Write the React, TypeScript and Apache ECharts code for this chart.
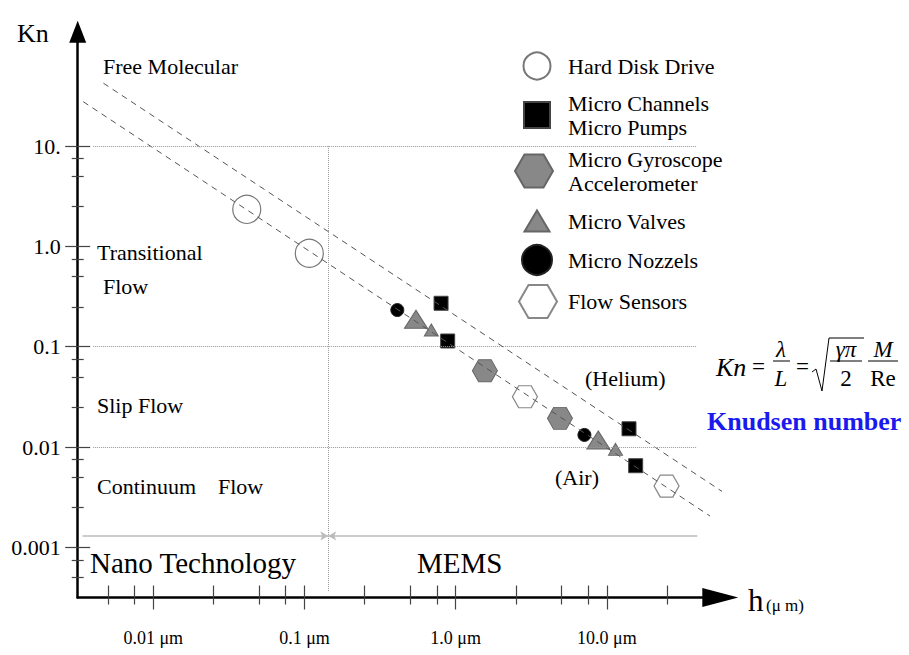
import React, { useEffect, useRef } from 'react';
import * as echarts from 'echarts';

// ---- data (h in micrometres, Kn dimensionless) ----
const hardDisk = [[0.0415, 2.34], [0.1076, 0.853]];
const microChannels = [[0.8, 0.271], [0.885, 0.114], [14.0, 0.0152], [15.5, 0.00651]];
const gyroscope = [[1.56, 0.0577], [4.89, 0.0193]];
const valves = [[0.546, 0.1875], [0.69, 0.1467], [8.77, 0.01175], [11.4, 0.00948]];
const nozzles = [[0.411, 0.232], [7.1, 0.0132]];
const flowSensors = [[2.87, 0.0317], [24.8, 0.00408]];
const heliumLine = [[0.00468, 42.3], [65.2, 0.0032]];
const airLine = [[0.00344, 27.7], [48.1, 0.00205]];

const xTickValues = [0.01, 0.1, 1, 10];
const xTickLabels = ['0.01 μm', '0.1 μm', '1.0 μm', '10.0 μm'];
const xMinorTicks = [0.005, 0.0075, 0.025, 0.05, 0.075, 0.25, 0.5, 0.75, 2.5, 5, 7.5, 25];
const yTickValues = [0.001, 0.01, 0.1, 1, 10];
const yTickLabels = ['0.001', '0.01', '0.1', '1.0', '10.'];
const yMinorTicks = [0.0005, 0.00075, 0.0025, 0.005, 0.0075, 0.025, 0.05, 0.075, 0.25, 0.5, 0.75, 2.5, 5, 7.5];
const gridKn = [10, 0.1, 0.01];
const gridFromH = 0.004;
const gridToH = 39.5;
const boundaryH = 0.1436;
const boundaryKn = [10, 0.00036];
const rangeKn = 0.0013;
const rangeH = [0.0034, 39.6];

const H_MIN_LOG = -2.5;
const H_MAX_LOG = 1.75;
const KN_MIN_LOG = -3.5;
const KN_MAX_LOG = 2.14;

const FONT = '"Liberation Serif", "Times New Roman", serif';
const FAMILY = 'Liberation Serif';
const lg = Math.log10;
const toLog = (arr: number[][]) => arr.map(([h, k]) => [lg(h), lg(k)]);

const HEX = 'path://M0,10 L5.77,0 L17.32,0 L23.09,10 L17.32,20 L5.77,20 Z';

const nHDD = 'Hard Disk Drive';
const nCH = 'Micro Channels\nMicro Pumps';
const nGY = 'Micro Gyroscope\nAccelerometer';
const nVA = 'Micro Valves';
const nNZ = 'Micro Nozzels';
const nFS = 'Flow Sensors';

export default function App() {
  const ref = useRef<HTMLDivElement>(null);
  useEffect(() => {
    if (!ref.current) return;
    const chart = echarts.init(ref.current, null, { renderer: 'svg' });

    const fmt = (vals: number[], labels: string[]) => (v: number) => {
      const i = vals.findIndex((t) => Math.abs(lg(t) - v) < 1e-6);
      return i >= 0 ? labels[i] : '';
    };

    const baseX = { type: 'value', min: H_MIN_LOG, max: H_MAX_LOG, position: 'bottom', offset: 0, splitLine: { show: false } };
    const baseY = { type: 'value', min: KN_MIN_LOG, max: KN_MAX_LOG, position: 'left', offset: 0, splitLine: { show: false } };
    const tickStyle = { color: '#444', width: 1.2 };
    const hiddenLine = { show: false, onZero: false };

    const dotted = { type: 'dotted', color: '#999', width: 1 };
    const hLine = (kn: number) => [
      { coord: [lg(gridFromH), lg(kn)], symbol: 'none', lineStyle: dotted },
      { coord: [lg(gridToH), lg(kn)], symbol: 'none' },
    ];

    const legendLayout = [
      { name: nHDD, w: 27, h: 27, cx: 536, cy: 65, lines: 1 },
      { name: nCH, w: 26, h: 26, cx: 536, cy: 115, lines: 2 },
      { name: nGY, w: 38, h: 33, cx: 533, cy: 171, lines: 2 },
      { name: nVA, w: 25, h: 21, cx: 536, cy: 221, lines: 1 },
      { name: nNZ, w: 30, h: 30, cx: 536, cy: 259, lines: 1 },
      { name: nFS, w: 38, h: 34, cx: 537, cy: 301, lines: 1 },
    ];

    const annotations = [
      { t: 'Kn', x: 17, y: 33, s: 26 },
      { t: 'Free Molecular', x: 103, y: 66, s: 22 },
      { t: 'Transitional', x: 97, y: 252, s: 22 },
      { t: 'Flow', x: 103, y: 286, s: 22 },
      { t: 'Slip Flow', x: 97, y: 405, s: 22 },
      { t: 'Continuum', x: 97, y: 486, s: 22 },
      { t: 'Flow', x: 218, y: 486, s: 22 },
      { t: 'Nano Technology', x: 90, y: 563, s: 29 },
      { t: 'MEMS', x: 417, y: 563, s: 29 },
      { t: '(Helium)', x: 585, y: 378, s: 22 },
      { t: '(Air)', x: 555, y: 477, s: 22 },
      { t: 'h', x: 748, y: 600, s: 31 },
      { t: '(μ m)', x: 766, y: 605, s: 17 },
    ];

    const txt = (t: string, x: number, y: number, font: string, align = 'left', fill = '#000') => ({
      type: 'text',
      x,
      y,
      silent: true,
      style: { text: t, font, fill, align, verticalAlign: 'middle', textAlign: align, textVerticalAlign: 'middle' },
    });
    const seg = (x1: number, y1: number, x2: number, y2: number) => ({
      type: 'line',
      silent: true,
      shape: { x1, y1, x2, y2 },
      style: { stroke: '#000', lineWidth: 1 },
    });

    const graphics: any[] = [
      ...annotations.map((a) => txt(a.t, a.x, a.y, `${a.s}px ${FONT}`)),
      // Knudsen formula
      txt('Kn', 716, 367, `italic 26px ${FONT}`),
      txt('=', 752, 366, `23px ${FONT}`),
      txt('λ', 781, 349, `italic 23px ${FONT}`, 'center'),
      seg(773, 361, 790, 361),
      txt('L', 781, 378, `italic 23px ${FONT}`, 'center'),
      txt('=', 796, 366, `23px ${FONT}`),
      {
        type: 'polyline',
        silent: true,
        shape: { points: [[812, 372], [816, 369], [822, 391], [829, 338], [864, 338]] },
        style: { stroke: '#000', lineWidth: 1, fill: null },
      },
      txt('γπ', 846, 349, `italic 23px ${FONT}`, 'center'),
      seg(830, 361, 862, 361),
      txt('2', 846, 378, `23px ${FONT}`, 'center'),
      txt('M', 883, 349, `italic 23px ${FONT}`, 'center'),
      seg(868, 361, 898, 361),
      txt('Re', 883, 378, `23px ${FONT}`, 'center'),
      txt('Knudsen number', 707, 421, `bold 26px ${FONT}`, 'left', '#1a1aee'),
    ];

    const option: any = {
      animation: false,
      backgroundColor: '#fff',
      textStyle: { fontFamily: FAMILY },
      grid: {
        left: 77.7,
        right: 909 - 720.3,
        top: 31.7,
        bottom: 655 - 597.5,
        containLabel: false,
        outerBoundsMode: 'none',
      },
      xAxis: [
        {
          ...baseX,
          axisLine: { show: true, onZero: false, lineStyle: { color: '#000', width: 2.5 }, symbol: ['none', 'triangle'], symbolSize: [19, 36] },
          axisTick: { show: true, inside: false, length: 12, customValues: xTickValues.map(lg), lineStyle: tickStyle },
          axisLabel: {
            show: true,
            customValues: xTickValues.map(lg),
            formatter: fmt(xTickValues, xTickLabels),
            margin: 31,
            fontFamily: FAMILY,
            fontSize: 18,
            color: '#000',
          },
        },
        {
          ...baseX,
          axisLine: hiddenLine,
          axisTick: { show: true, inside: true, length: 12, customValues: [...xTickValues, ...xMinorTicks].map(lg), lineStyle: tickStyle },
          axisLabel: { show: false },
        },
        {
          ...baseX,
          axisLine: hiddenLine,
          axisTick: { show: true, inside: false, length: 7, customValues: xMinorTicks.map(lg), lineStyle: tickStyle },
          axisLabel: { show: false },
        },
      ],
      yAxis: [
        {
          ...baseY,
          axisLine: { show: true, onZero: false, lineStyle: { color: '#000', width: 2.5 }, symbol: ['none', 'triangle'], symbolSize: [17, 22] },
          axisTick: { show: true, inside: false, length: 12.5, customValues: yTickValues.map(lg), lineStyle: tickStyle },
          axisLabel: {
            show: true,
            customValues: yTickValues.map(lg),
            formatter: fmt(yTickValues, yTickLabels),
            margin: 17,
            fontFamily: FAMILY,
            fontSize: 22,
            color: '#000',
          },
        },
        {
          ...baseY,
          axisLine: hiddenLine,
          axisTick: { show: true, inside: true, length: 12.5, customValues: yTickValues.map(lg), lineStyle: tickStyle },
          axisLabel: { show: false },
        },
        {
          ...baseY,
          axisLine: hiddenLine,
          axisTick: { show: true, inside: true, length: 6, customValues: yMinorTicks.map(lg), lineStyle: tickStyle },
          axisLabel: { show: false },
        },
        {
          ...baseY,
          axisLine: hiddenLine,
          axisTick: { show: true, inside: false, length: 6, customValues: yMinorTicks.map(lg), lineStyle: tickStyle },
          axisLabel: { show: false },
        },
      ],
      legend: legendLayout.map((l) => ({
        data: [l.name],
        orient: 'vertical',
        left: l.cx - l.w / 2,
        top: l.cy - Math.max(l.h, l.lines * 24) / 2,
        itemWidth: l.w,
        itemHeight: l.h,
        padding: 0,
        selectedMode: false,
        textStyle: {
          fontFamily: FAMILY,
          fontSize: 22,
          color: '#000',
          lineHeight: 24,
          padding: [0, 0, 0, 567 - (l.cx + l.w / 2 + 5)],
        },
      })),
      graphic: graphics,
      series: [
        {
          type: 'line',
          name: 'Helium',
          data: toLog(heliumLine),
          symbol: 'none',
          silent: true,
          lineStyle: { type: [6, 5], color: '#555', width: 1 },
        },
        {
          type: 'line',
          name: 'Air',
          data: toLog(airLine),
          symbol: 'none',
          silent: true,
          lineStyle: { type: [6, 5], color: '#555', width: 1 },
          markLine: {
            silent: true,
            animation: false,
            label: { show: false },
            emphasis: { disabled: true },
            symbol: ['none', 'none'],
            data: [
              ...gridKn.map(hLine),
              [
                { coord: [lg(boundaryH), lg(boundaryKn[0])], symbol: 'none', lineStyle: dotted },
                { coord: [lg(boundaryH), lg(boundaryKn[1])], symbol: 'none' },
              ],
              [
                { coord: [lg(rangeH[0]), lg(rangeKn)], symbol: 'none', lineStyle: { type: 'solid', color: '#bbb', width: 1.5 } },
                { coord: [lg(boundaryH), lg(rangeKn)], symbol: 'arrow', symbolSize: [7, 8] },
              ],
              [
                { coord: [lg(rangeH[1]), lg(rangeKn)], symbol: 'none', lineStyle: { type: 'solid', color: '#bbb', width: 1.5 } },
                { coord: [lg(boundaryH), lg(rangeKn)], symbol: 'arrow', symbolSize: [7, 8] },
              ],
            ],
          },
        },
        {
          type: 'scatter',
          name: nHDD,
          data: toLog(hardDisk),
          symbol: 'circle',
          symbolSize: 28,
          itemStyle: { color: '#fff', borderColor: '#777', borderWidth: 1.2, opacity: 1 },
        },
        {
          type: 'scatter',
          name: nCH,
          data: toLog(microChannels),
          symbol: 'rect',
          symbolSize: 14,
          itemStyle: { color: '#000', borderColor: '#444', borderWidth: 1, opacity: 1 },
        },
        {
          type: 'scatter',
          name: nGY,
          data: toLog(gyroscope),
          symbol: HEX,
          symbolSize: [25, 22],
          itemStyle: { color: '#888', borderColor: '#666', borderWidth: 1, opacity: 1 },
        },
        {
          type: 'scatter',
          name: nVA,
          data: toLog(valves),
          symbol: 'triangle',
          symbolSize: (_v: any, p: any) => (p.dataIndex % 2 === 0 ? [23, 18] : [14, 12]),
          itemStyle: { color: '#888', borderColor: '#666', borderWidth: 1, opacity: 1 },
        },
        {
          type: 'scatter',
          name: nNZ,
          data: toLog(nozzles),
          symbol: 'circle',
          symbolSize: 13,
          itemStyle: { color: '#000', borderColor: '#222', borderWidth: 1, opacity: 1 },
        },
        {
          type: 'scatter',
          name: nFS,
          data: toLog(flowSensors),
          symbol: HEX,
          symbolSize: [25, 22],
          itemStyle: { color: '#fff', borderColor: '#888', borderWidth: 1.2, opacity: 1 },
        },
      ],
    };

    chart.setOption(option);
    return () => chart.dispose();
  }, []);

  return <div ref={ref} style={{ position: 'absolute', left: 0, top: 0, width: 909, height: 655 }} />;
}
